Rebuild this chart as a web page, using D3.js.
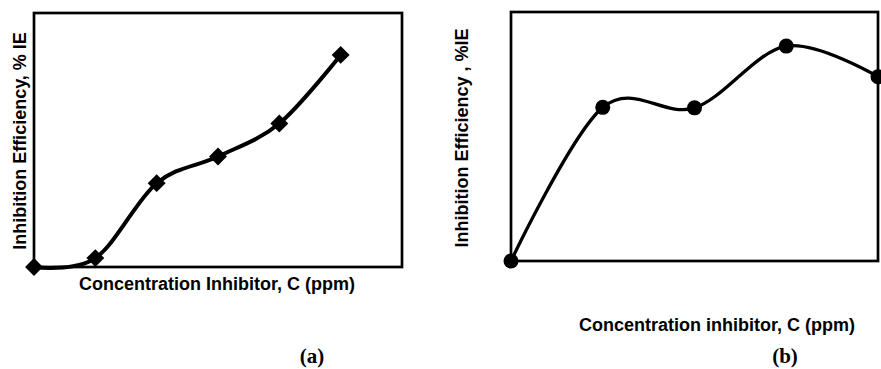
<!DOCTYPE html>
<html>
<head>
<meta charset="utf-8">
<script src="https://cdn.jsdelivr.net/npm/d3@7"></script>
<style>
    html, body { margin: 0; padding: 0; background: #fff; }
    svg { display: block; }
    .axis-title { font-family: 'Liberation Sans', Arial, sans-serif; font-weight: bold; font-size: 18px; fill: #000; }
    .panel-tag { font-family: 'Liberation Serif', 'Times New Roman', serif; font-weight: bold; font-size: 21px; fill: #000; }
</style>
</head>
<body>
<div id="chart"></div>
<script>
    'use strict';

    // panel (a): inhibitor steps vs % IE
    var stepsA = [0, 1, 2, 3, 4, 5];
    var efficiencyA = [0, 3.5, 33, 43.5, 56.5, 83.5];

    // panel (b)
    var stepsB = [0, 1, 2, 3, 4];
    var efficiencyB = [0, 61.7, 61.5, 86.3, 74];

    var xTitles = ['Concentration Inhibitor, C (ppm)', 'Concentration inhibitor, C (ppm)'];
    var yTitles = ['Inhibition Efficiency, % IE', 'Inhibition Efficiency , %IE'];
    var tags = ['(a)', '(b)'];

    var width = 881, height = 369;

    var svg = d3.select('#chart')
        .append('svg')
        .attr('width', width)
        .attr('height', height)
        .attr('xmlns', 'http://www.w3.org/2000/svg');

    var drawPanel = function(cfg) {
        var x = d3.scaleLinear().domain(cfg.xDomain).range([cfg.left, cfg.right]);
        var y = d3.scaleLinear().domain([0, 100]).range([cfg.bottom, cfg.top]);

        var points = cfg.xs.map(function(d, i) {
            return { x: d, y: cfg.ys[i] };
        });

        var g = svg.append('g').attr('class', 'panel');

        // plain frame, no ticks
        g.append('rect')
            .attr('x', cfg.left)
            .attr('y', cfg.top)
            .attr('width', cfg.right - cfg.left)
            .attr('height', cfg.bottom - cfg.top)
            .attr('fill', 'none')
            .attr('stroke', '#000')
            .attr('stroke-width', 2.7);

        // excel-style smoothing
        var line = d3.line()
            .x(function(d) { return x(d.x); })
            .y(function(d) { return y(d.y); })
            .curve(d3.curveCatmullRom.alpha(0));

        g.append('path')
            .datum(points)
            .attr('d', line)
            .attr('fill', 'none')
            .attr('stroke', '#000')
            .attr('stroke-width', cfg.lineWidth);

        var marker = d3.symbol().type(cfg.symbol).size(cfg.symbolSize);
        g.selectAll('path.marker')
            .data(points).enter()
            .append('path')
            .attr('class', 'marker')
            .attr('transform', function(d) {
                var t = 'translate(' + x(d.x) + ',' + y(d.y) + ')';
                return cfg.symbol === d3.symbolSquare ? t + ' rotate(45)' : t;
            })
            .attr('d', marker)
            .attr('fill', '#000');

        g.append('text')
            .attr('class', 'axis-title')
            .attr('x', cfg.xTitle[0])
            .attr('y', cfg.xTitle[1])
            .attr('text-anchor', 'middle')
            .text(cfg.xText);

        g.append('text')
            .attr('class', 'axis-title')
            .attr('transform', 'translate(' + cfg.yTitle[0] + ',' + cfg.yTitle[1] + ') rotate(-90)')
            .attr('text-anchor', 'middle')
            .text(cfg.yText);

        g.append('text')
            .attr('class', 'panel-tag')
            .attr('x', cfg.tag[0])
            .attr('y', cfg.tag[1])
            .attr('text-anchor', 'middle')
            .text(cfg.tagText);
    };

    drawPanel({
        xs: stepsA, ys: efficiencyA, xDomain: [0, 6],
        left: 34, right: 402, top: 13, bottom: 267,
        lineWidth: 4, symbol: d3.symbolSquare, symbolSize: 160,
        xText: xTitles[0], xTitle: [217, 290],
        yText: yTitles[0], yTitle: [26, 141],
        tagText: tags[0], tag: [312, 363]
    });

    drawPanel({
        xs: stepsB, ys: efficiencyB, xDomain: [0, 4],
        left: 511, right: 878, top: 12, bottom: 261,
        lineWidth: 3.3, symbol: d3.symbolCircle, symbolSize: 177,
        xText: xTitles[1], xTitle: [717, 331],
        yText: yTitles[1], yTitle: [468, 138],
        tagText: tags[1], tag: [785, 363]
    });
</script>
</body>
</html>
